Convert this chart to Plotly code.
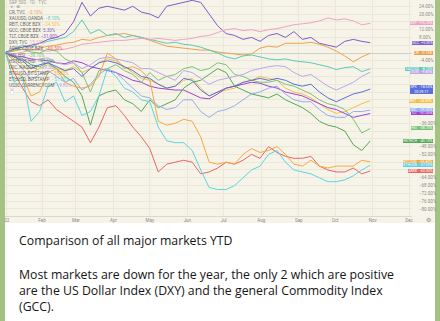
import plotly.graph_objects as go
import pandas as pd

# ---------------- data ----------------
dates = pd.date_range("2022-01-02", periods=44, freq="7D")

month_ticks = ["2022-01-03", "2022-02-01", "2022-03-01", "2022-04-01", "2022-05-01", "2022-06-01",
               "2022-07-01", "2022-08-01", "2022-09-01", "2022-10-01", "2022-11-01", "2022-12-01"]
month_labels = ["22", "Feb", "Mar", "Apr", "May", "Jun", "Jul", "Aug", "Sep", "Oct", "Nov", "Dec"]
y_ticks = list(range(-80, 25, 4))

dxy = [0, -0.5, 0.5, 1.5, 1.5, 1.0, 1.5, 2.0, 3.0, 4.5, 5.0, 5.5, 6.0, 6.5, 6.5, 7.0, 7.5, 7.0, 7.5, 7.0,
       6.5, 7.0, 7.5, 8.5, 9.0, 10.5, 12.0, 12.5, 11.5, 12.0, 11.0, 12.0, 12.5, 13.5, 14.5, 15.0, 15.5, 16.5,
       18.0, 17.0, 17.5, 16.5, 14.5, 15.2]
gcc = [0.5, 2, 3, 4, 5, 7, 8, 10, 16, 26, 19, 23, 24, 23, 22, 24, 21, 20, 18, 24, 25, 26, 27, 26, 20, 14,
       10, 9, 7, 8, 6, 9, 10, 8, 11, 7, 8, 5, 4, 3, 6, 7, 6, 5.3]
cr = [0, 1, 2, 1.5, 2.5, 3.5, 4, 5, 5.5, 7, 6.5, 8, 9, 9.5, 10, 9, 8, 6.5, 5, 3.5, 3, 2.5, 2, 1.5, 1.5,
      0.5, 0, -0.5, -1, -0.5, 2.5, 3.5, 3, 5, 5, 5, 5.5, 4.5, 3, 1, -1.5, -4.5, -2, -0.1]
xau = [0, 2, 4, 3, 5, 6, 7, 8, 11, 17, 10, 12, 9, 10, 8, 9, 8, 7, 6, 5, 5.5, 4.5, 4, 3, 1.5, 0, -2, -3,
       -1.5, -1, -2, -3, -3.5, -3, -4, -4.5, -5, -6, -7, -8.5, -7.5, -7, -9.5, -8.1]
us30 = [0, -1, -3, -4, -3, -2.5, -5, -6, -5, -8, -6, -3, -2, -3, -4, -5, -8, -8, -10, -12, -14, -9, -10,
        -13, -16, -14, -13, -12, -11, -9, -8, -7, -6.5, -7, -10, -12, -11, -14, -17, -19, -17, -15, -12, -9.8]
spx = [0, -2, -4, -8, -6, -5, -7, -9, -8, -12, -8, -5, -4, -5, -7, -9, -12, -13, -16, -18, -17, -13, -14,
       -19, -22, -20, -18, -17, -15, -14, -13, -14, -13, -14, -16, -17, -16, -20, -23, -25, -23, -21, -20, -18.5]
reit = [0, -3, -6, -10, -8, -6, -8, -9, -7, -10, -8, -5, -3, -4, -7, -10, -13, -14, -16, -18, -17, -14, -13,
        -18, -22, -20, -19, -18, -15, -14, -12, -13, -14, -18, -20, -21, -23, -26, -29, -31, -30, -28, -26, -24.5]
ixic = [0, -4, -8, -14, -11, -9, -12, -15, -13, -19, -16, -11, -8, -10, -14, -18, -22, -23, -27, -29, -28,
        -24, -24, -30, -33, -30, -29, -27, -24, -21, -20, -18, -17, -21, -24, -25, -25, -29, -32, -33, -33,
        -30, -30, -29.3]
tlt = [0, -1.5, -2, -3, -3.5, -4, -5, -5.5, -4, -5, -7, -8, -9, -10, -12, -14, -15, -17, -18, -18.5, -19,
       -19, -21, -23, -23.5, -21, -18, -17, -16, -15, -15.5, -17, -18, -20, -21, -22, -24, -26, -28, -29,
       -31, -33, -32, -31]
hsi = [0, 1.5, 2, 0.5, 0, 2, 1, -3, -5, -10, -20, -9, -8, -6, -9, -11, -15, -10, -14, -12, -11, -8, -7, -9,
       -8, -5, -6, -11, -12, -14, -15, -15, -14, -16, -17, -19, -21, -24, -26, -27, -29, -34, -41, -38.7]
hstech = [0, -2, -3, -6, -7, -5, -8, -12, -15, -22, -37, -22, -20, -19, -24, -26, -30, -24, -28, -26, -24,
          -18, -15, -14, -11, -8, -10, -17, -19, -21, -22, -23, -21, -24, -26, -28, -31, -35, -37, -38, -40,
          -47, -50, -45.1]
btc = [0, -10, -12, -22, -20, -10, -8, -15, -17, -18, -17, -12, 0, -3, -8, -7, -9, -14, -35, -37, -36, -34,
       -35, -43, -56, -57, -56, -57, -52, -49, -51, -50, -48, -52, -57, -58, -55, -58, -59, -58, -58, -58,
       -55, -55.8]
eth = [0, -15, -12, -35, -30, -17, -15, -25, -22, -32, -30, -22, -8, -12, -18, -20, -24, -25, -38, -45, -46,
       -46, -50, -60, -69, -70, -70, -68, -64, -60, -58, -52, -50, -56, -60, -61, -62, -64, -66, -66, -65,
       -63, -60, -57.5]
arkk = [0, -10, -18, -25, -27, -24, -29, -32, -35, -38, -46, -38, -28, -27, -32, -38, -43, -49, -61, -57,
        -56, -55, -56, -62, -61, -59, -56, -57, -55, -52, -54, -48, -51, -53, -54, -54, -53, -58, -60, -61,
        -61, -59, -62, -60.5]

# (legend name, tag, colour, values)
series = [
    ("CR, TVC", "CR", "#f0a04b", cr),
    ("XAUUSD, OANDA", "XAUUSD", "#5cc8b8", xau),
    ("REIT, CBOE BZX", "REIT", "#f5bf45", reit),
    ("GCC, CBOE BZX", "GCC", "#7e5bc9", gcc),
    ("TLT, CBOE BZX", "TLT", "#a040d4", tlt),
    ("DXY, TVC", "DXY", "#efa2c2", dxy),
    ("ARKK, CBOE BZX", "ARKK", "#ec6464", arkk),
    ("HSI, HSI", "HSI", "#78c277", hsi),
    ("HSTECH, HSI", "HSTECH", "#52a857", hstech),
    ("IXIC, NASDAQ", "IXIC", "#9aaaf0", ixic),
    ("BTCUSD, BITSTAMP", "BTCUSD", "#f6a740", btc),
    ("ETHUSD, BITSTAMP", "ETHUSD", "#5ad4e3", eth),
    ("US30, CURRENCYCOM", "US30", "#baa6e8", us30),
]
main_series = ("S&P 500 · 1D · TVC", "SPX", "#5a6fd8", spx)

caption_title = "Comparison of all major markets YTD"
caption_body = ["Most markets are down for the year, the only 2 which are positive",
                "are the US Dollar Index (DXY) and the general Commodity Index",
                "(GCC)."]

# ---------------- figure ----------------
W, H = 440, 321
PL, PR, PT, PB = 5, 412, 0, 216
CREAM = "#f6f4e8"
GRID = "#ebe8da"


def pxx(px):
    return (px - PL) / (PR - PL)


def pxy(py):
    return (PB - py) / (PB - PT)


fig = go.Figure()
for name, tag, color, vals in series + [main_series]:
    fig.add_trace(go.Scatter(x=dates, y=vals, mode="lines", line=dict(color=color, width=1),
                             hoverinfo="skip", showlegend=False))

ann = []
small = dict(family="Roboto", size=4.5, color="#8a8a8a")

# right-hand tags
end_vals = [s[3][-1] for s in series + [main_series]]
for name, tag, color, vals in series + [main_series]:
    v = vals[-1]
    txt = f"{tag}  {v:+.2f}%".replace("-", "−")
    if tag == "SPX":
        txt += "<br>20:29:17"
    ann.append(dict(x=pxx(433), xref="paper", y=v, yref="y", xanchor="right", yanchor="middle",
                    text=txt, showarrow=False, bgcolor=color, borderpad=0.2, borderwidth=0,
                    font=dict(family="Roboto", size=3.6, color="#ffffff")))

# price-scale labels hidden where a tag sits (as the trading chart does)
y_text = []
for v in y_ticks:
    hidden = any(abs(v - e) < 2.6 for e in end_vals)
    y_text.append("" if hidden else f"{v:.2f}%".replace("-", "−"))

# top-left legend
ann.append(dict(x=pxx(7), y=pxy(2.2), xref="paper", yref="paper", xanchor="left", yanchor="middle",
                text=main_series[0], showarrow=False, font=dict(family="Roboto", size=4.5, color="#9a9a9a")))
ann.append(dict(x=pxx(8), y=pxy(6.5), xref="paper", yref="paper", xanchor="left", yanchor="middle",
                text="∨  ⊗", showarrow=False, font=dict(family="DejaVu Sans", size=4.5, color="#8a8a8a")))
for k, (name, tag, color, vals) in enumerate(series):
    v = vals[-1]
    val_txt = f"{v:.2f}%".replace("-", "−")
    ann.append(dict(x=pxx(7), y=pxy(12.3 + 6.1 * k), xref="paper", yref="paper", xanchor="left",
                    yanchor="middle", showarrow=False,
                    text=f"<span style='color:#666'>{name}</span>  <span style='color:{color}'>{val_txt}</span>",
                    font=dict(family="Roboto", size=4.5, color="#666")))
ann.append(dict(x=pxx(12), y=pxy(91.5), xref="paper", yref="paper", xanchor="center", yanchor="middle",
                text="^", showarrow=False, bgcolor="#ffffff", bordercolor="#d8d8d8", borderwidth=0.5,
                borderpad=0.5, font=dict(family="Roboto", size=4.5, color="#777")))
# gear icon
ann.append(dict(x=pxx(428), y=pxy(219.5), xref="paper", yref="paper", xanchor="center", yanchor="middle",
                text="⚙", showarrow=False, font=dict(family="DejaVu Sans", size=6, color="#8a8a8a")))

# caption text
cap_font = dict(family="Open Sans", size=12.3, color="#161616")
ann.append(dict(x=pxx(18), y=pxy(240), xref="paper", yref="paper", xanchor="left", yanchor="middle",
                text=caption_title, showarrow=False, font=cap_font, borderpad=0))
ann.append(dict(x=pxx(18), y=pxy(290.5), xref="paper", yref="paper", xanchor="left", yanchor="middle",
                align="left", text="<br>".join(caption_body), showarrow=False, font=cap_font, borderpad=0))

shapes = [
    dict(type="rect", xref="paper", yref="paper", x0=pxx(5), x1=pxx(435), y0=pxy(223), y1=pxy(321.5),
         fillcolor="#ffffff", line=dict(width=0), layer="below"),
    dict(type="rect", xref="paper", yref="paper", x0=pxx(5), x1=pxx(435), y0=pxy(223), y1=pxy(0),
         fillcolor=CREAM, line=dict(width=0), layer="below"),
]

fig.update_layout(
    width=W, height=H,
    margin=dict(l=PL, r=W - PR, t=PT, b=H - PB),
    paper_bgcolor="#a3c283",
    plot_bgcolor=CREAM,
    annotations=ann,
    shapes=shapes,
    showlegend=False,
    xaxis=dict(type="date", range=["2022-01-01 11:00", "2022-12-03 11:00"], tickvals=month_ticks,
               ticktext=month_labels, tickfont=small, showgrid=True, gridcolor=GRID, gridwidth=1,
               showline=True, linecolor="#dcd9cc", linewidth=1, ticks="", zeroline=False, fixedrange=True),
    yaxis=dict(range=[-83.6, 27.2], side="right", tickvals=y_ticks, ticktext=y_text, tickfont=small,
               showgrid=True, gridcolor=GRID, gridwidth=1, zeroline=True, zerolinecolor="#d2cfc4",
               zerolinewidth=1, ticks="", ticklabelstandoff=6, showline=False, fixedrange=True),
)

fig.write_html("out.html", config={"displayModeBar": False})
